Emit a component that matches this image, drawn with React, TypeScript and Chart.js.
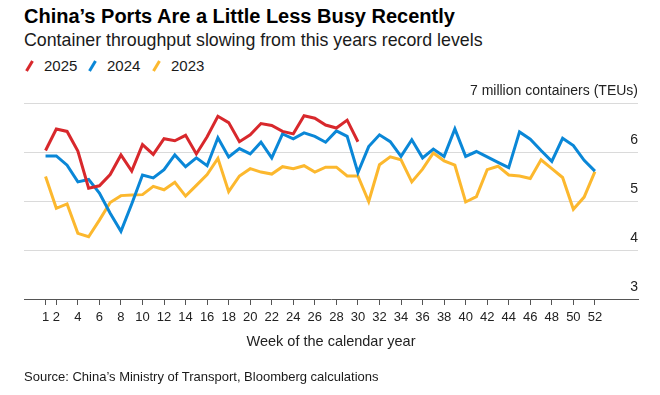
import React, { useEffect, useRef } from 'react';
import { Chart, registerables } from 'chart.js';

Chart.register(...registerables);

const weeks = [
  1, 2, 3, 4, 5, 6, 7, 8, 9, 10, 11, 12, 13, 14, 15, 16, 17, 18, 19, 20, 21, 22, 23, 24, 25, 26,
  27, 28, 29, 30, 31, 32, 33, 34, 35, 36, 37, 38, 39, 40, 41, 42, 43, 44, 45, 46, 47, 48, 49, 50, 51, 52,
];
const xTickValues = [1, 2, 4, 6, 8, 10, 12, 14, 16, 18, 20, 22, 24, 26, 28, 30, 32, 34, 36, 38, 40, 42, 44, 46, 48, 50, 52];
const yTickValues = [3, 4, 5, 6, 7];
const yUnitLabel = '7 million containers (TEUs)';

const series2025 = [
  6.03, 6.47, 6.42, 6.02, 5.26, 5.31, 5.54, 5.94, 5.61, 6.15, 5.95, 6.27, 6.23, 6.34, 5.96, 6.31, 6.73, 6.60,
  6.21, 6.35, 6.58, 6.54, 6.42, 6.37, 6.74, 6.69, 6.55, 6.49, 6.65, 6.21,
];
const series2024 = [
  5.92, 5.92, 5.73, 5.39, 5.44, 5.16, 4.75, 4.38, 4.94, 5.53, 5.47, 5.64, 5.94, 5.70, 5.88, 5.72, 6.29, 5.90,
  6.07, 5.96, 6.20, 5.88, 6.37, 6.27, 6.39, 6.32, 6.20, 6.43, 6.32, 5.58, 6.11, 6.35, 6.21, 5.91, 6.25, 5.88,
  6.06, 5.91, 6.47, 5.91, 6.01, 5.90, 5.79, 5.68, 6.41, 6.26, 6.03, 5.81, 6.28, 6.13, 5.83, 5.61,
];
const series2023 = [
  5.50, 4.85, 4.94, 4.34, 4.27, 4.61, 4.97, 5.11, 5.12, 5.13, 5.30, 5.23, 5.38, 5.10, 5.32, 5.54, 5.87, 5.19,
  5.51, 5.66, 5.59, 5.55, 5.70, 5.66, 5.72, 5.59, 5.69, 5.69, 5.51, 5.51, 4.99, 5.74, 5.90, 5.84, 5.39, 5.65,
  5.98, 5.82, 5.73, 4.98, 5.09, 5.64, 5.71, 5.53, 5.51, 5.46, 5.84, 5.66, 5.48, 4.83, 5.08, 5.60,
];

const seriesNames = ['2025', '2024', '2023'];
const seriesValues = [series2025, series2024, series2023];
const seriesColors = ['#d8282c', '#0a87d7', '#fcb82e'];

const FONT = '"Liberation Sans", Arial, Helvetica, sans-serif';

export default function App() {
  const ref = useRef<HTMLCanvasElement>(null);

  useEffect(() => {
    const yLabels = {
      id: 'yLabels',
      afterDraw(chart: any) {
        const { ctx, chartArea, scales } = chart;
        const y = scales.y;
        ctx.save();
        ctx.font = `14px ${FONT}`;
        ctx.fillStyle = '#222';
        ctx.textAlign = 'right';
        ctx.textBaseline = 'alphabetic';
        yTickValues.forEach((v) => {
          const text = v === 7 ? yUnitLabel : String(v);
          ctx.fillText(text, chartArea.right, y.getPixelForValue(v) - 8.5);
        });
        ctx.restore();
      },
    };

    const chart = new Chart(ref.current as HTMLCanvasElement, {
      type: 'line',
      data: {
        datasets: seriesNames.map((name, si) => ({
          label: name,
          data: seriesValues[si].map((v, i) => ({ x: weeks[i], y: v })),
          borderColor: seriesColors[si],
          backgroundColor: seriesColors[si],
          borderWidth: 3,
          pointRadius: 0,
          tension: 0,
          fill: false,
        })),
      },
      options: {
        responsive: false,
        animation: false,
        layout: { padding: { left: 24, right: 22, top: 103, bottom: 36 } },
        plugins: { legend: { display: false }, tooltip: { enabled: false } },
        scales: {
          x: {
            type: 'linear',
            min: -1,
            max: 56,
            afterBuildTicks: (axis: any) => {
              axis.ticks = xTickValues.map((v) => ({ value: v }));
            },
            afterFit: (axis: any) => {
              axis.height = 60;
            },
            ticks: {
              autoSkip: false,
              maxRotation: 0,
              minRotation: 0,
              padding: 5,
              color: '#222',
              font: { family: FONT, size: 13 },
              callback: (v: any) => String(v),
            },
            grid: { drawOnChartArea: false, drawTicks: true, tickLength: 6, color: '#555', lineWidth: 1 },
            border: { display: true, color: '#555', width: 1 },
            title: {
              display: true,
              text: 'Week of the calendar year',
              color: '#222',
              font: { family: FONT, size: 14.5 },
              padding: { top: 0, bottom: 8 },
            },
          },
          y: {
            type: 'linear',
            position: 'right',
            min: 3,
            max: 7,
            afterBuildTicks: (axis: any) => {
              axis.ticks = yTickValues.map((v) => ({ value: v }));
            },
            afterFit: (axis: any) => {
              axis.width = 0;
            },
            ticks: { display: false },
            grid: {
              drawTicks: false,
              color: (c: any) => (c.tick && c.tick.value === 3 ? 'rgba(0,0,0,0)' : '#dadada'),
              lineWidth: 1,
            },
            border: { display: false },
          },
        },
      },
      plugins: [yLabels],
    });
    return () => chart.destroy();
  }, []);

  const legendLeft = [25, 88, 152];

  return (
    <div
      style={{
        position: 'absolute',
        left: 0,
        top: 0,
        width: 660,
        height: 395,
        background: '#fff',
        fontFamily: FONT,
        overflow: 'hidden',
      }}
    >
      <div style={{ position: 'absolute', left: 24, top: 5.8, fontSize: 20, lineHeight: '20px', fontWeight: 700, color: '#000', whiteSpace: 'nowrap' }}>
        China’s Ports Are a Little Less Busy Recently
      </div>
      <div style={{ position: 'absolute', left: 24, top: 31.6, fontSize: 17.8, lineHeight: '17.8px', color: '#1a1a1a', whiteSpace: 'nowrap' }}>
        Container throughput slowing from this years record levels
      </div>
      {seriesNames.map((name, i) => (
        <div key={name} style={{ position: 'absolute', left: legendLeft[i], top: 58.3, height: 15, whiteSpace: 'nowrap' }}>
          <svg width="9" height="12" style={{ position: 'absolute', left: 0, top: 2 }}>
            <line x1="1.5" y1="11" x2="7.5" y2="1" stroke={seriesColors[i]} strokeWidth="3" />
          </svg>
          <span style={{ position: 'absolute', left: 19, top: 0, fontSize: 15, lineHeight: '15px', color: '#1a1a1a' }}>{name}</span>
        </div>
      ))}
      <canvas ref={ref} width={660} height={395} style={{ position: 'absolute', left: 0, top: 0, width: 660, height: 395 }} />
      <div style={{ position: 'absolute', left: 24, top: 369.7, fontSize: 13, lineHeight: '13px', color: '#1a1a1a', whiteSpace: 'nowrap' }}>
        Source: China’s Ministry of Transport, Bloomberg calculations
      </div>
    </div>
  );
}
